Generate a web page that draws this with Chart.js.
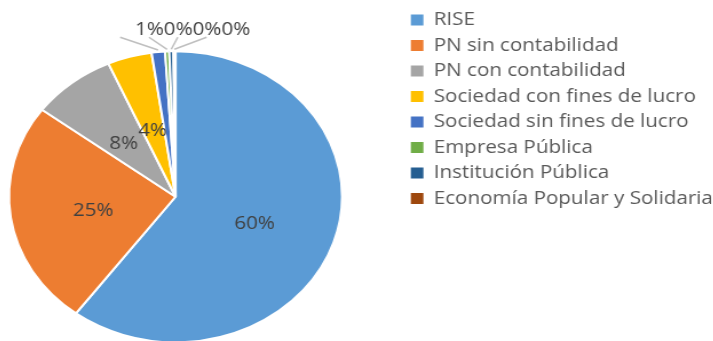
<!DOCTYPE html>
<html>
<head>
<meta charset="utf-8">
<title>Tipo de contribuyente</title>
<script src="https://cdn.jsdelivr.net/npm/chart.js@4.4.1/dist/chart.umd.min.js"></script>
<style>
  html, body { margin: 0; padding: 0; background: #fff; overflow: hidden; }
  body { width: 713px; height: 341px; }
  /* chart is drawn narrower and widened, like the original export */
  #wrap { width: 668px; height: 390px; transform: translateX(-51.2px) scaleX(1.1445); transform-origin: 0 0; }
</style>
</head>
<body>
<div id="wrap"><canvas id="pieChart"></canvas></div>
<script>
var categories = [
  'RISE',
  'PN sin contabilidad',
  'PN con contabilidad',
  'Sociedad con fines de lucro',
  'Sociedad sin fines de lucro',
  'Empresa Pública',
  'Institución Pública',
  'Economía Popular y Solidaria'
];
var shares = [60.2, 25.0, 8.2, 4.3, 1.3, 0.4, 0.4, 0.2];
var sliceColors = ['#5B9BD5', '#ED7D31', '#A5A5A5', '#FFC000', '#4472C4', '#70AD47', '#255E91', '#9E480E'];

Chart.defaults.font.family = "'Open Sans', sans-serif";

var canvasWidth = 668;
var legendLeft = 396.2;
var legendPad = 7.5;

// legend box just wide enough for the longest label
var ctx = document.getElementById('pieChart').getContext('2d');
ctx.font = "18px 'Open Sans'";
var longest = Math.max.apply(null, categories.map(function (c) { return ctx.measureText(c).width; }));
var legendWidth = Math.ceil(longest) + legendPad + 11 + 9 + 4;

// percent labels: inside for big slices, a row above the pie for tiny ones
var sliceLabels = {
  id: 'sliceLabels',
  afterDatasetsDraw: function (chart) {
    var c = chart.ctx;
    var meta = chart.getDatasetMeta(0);
    var data = chart.data.datasets[0].data;
    var total = data.reduce(function (a, b) { return a + b; }, 0);
    var rowX = null;
    c.save();
    c.font = "18px 'Open Sans'";
    c.fillStyle = '#404040';
    c.strokeStyle = '#BFBFBF';
    c.lineWidth = 1.5;
    c.textBaseline = 'middle';
    meta.data.forEach(function (arc, i) {
      var share = data[i] / total;
      var text = Math.round(share * 100) + '%';
      if (share >= 0.02) {
        var pos = arc.tooltipPosition();
        c.textAlign = 'center';
        c.fillText(text, pos.x, pos.y + 4);
        return;
      }
      var rowY = arc.y - arc.outerRadius - 24;
      if (rowX === null) rowX = arc.x - 35.4;
      c.textAlign = 'left';
      c.fillText(text, rowX, rowY + 3);
      var mid = (arc.startAngle + arc.endAngle) / 2;
      var r = arc.outerRadius + 2;
      c.beginPath();
      c.moveTo(rowX - 13, rowY + 10);
      c.lineTo(arc.x + Math.cos(mid) * r, arc.y + Math.sin(mid) * r);
      c.stroke();
      rowX += c.measureText(text).width;
    });
    c.restore();
  }
};

var pieChart = new Chart(ctx, {
  type: 'pie',
  data: {
    labels: categories,
    datasets: [
      {
        data: shares,
        backgroundColor: sliceColors,
        borderColor: '#ffffff',
        borderWidth: 2,
        radius: 145.5,
      },
    ],
  },
  options: {
    responsive: true,
    maintainAspectRatio: false,
    animation: false,
    events: [],
    layout: {
      padding: { left: 0, top: 3.5, right: canvasWidth - legendLeft - legendWidth, bottom: 0 },
    },
    plugins: {
      legend: {
        position: 'right',
        align: 'start',
        maxWidth: legendWidth,
        labels: {
          boxWidth: 11,
          boxHeight: 11,
          padding: legendPad,
          color: '#595959',
          font: { size: 18 },
          generateLabels: function (chart) {
            var items = Chart.overrides.doughnut.plugins.legend.labels.generateLabels(chart);
            items.forEach(function (item) { item.lineWidth = 0; });
            return items;
          },
        },
      },
      tooltip: { enabled: false },
    },
  },
  plugins: [sliceLabels],
});
</script>
</body>
</html>
